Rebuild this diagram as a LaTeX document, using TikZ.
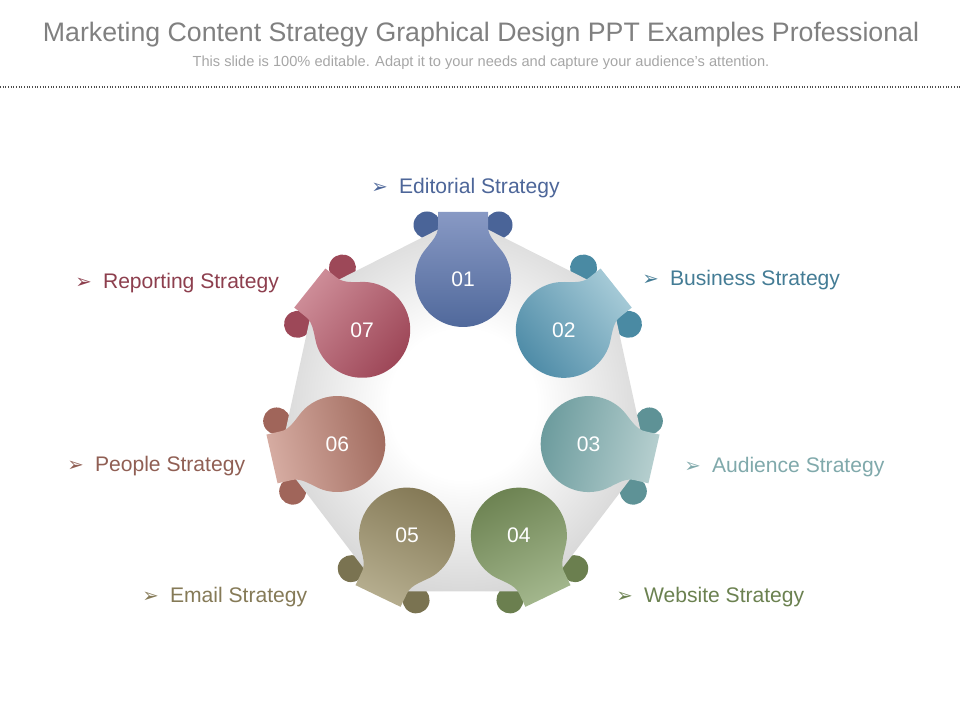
\documentclass[tikz,border=0pt]{standalone}
\usepackage{fontspec}
\setmainfont{Liberation Sans}
\newfontfamily\bulletfont{DejaVu Sans}
\newcommand{\itembullet}{{\bulletfont\fontsize{14}{14}\selectfont ➢}\hspace{8pt}}

\pgfdeclareradialshading{heptagon}{\pgfpoint{0bp}{0bp}}{color(0bp)=(white); color(10bp)=(white); color(34bp)=(gray!48); color(50bp)=(gray!60)}

\definecolor{darkA}{HTML}{4D6699}\definecolor{lightA}{HTML}{8899C4}\definecolor{earA}{HTML}{4A6498}
\definecolor{darkB}{HTML}{4C8AA6}\definecolor{lightB}{HTML}{A4C9D6}\definecolor{earB}{HTML}{4A8AA3}
\definecolor{darkC}{HTML}{6A9A9C}\definecolor{lightC}{HTML}{B6CFCF}\definecolor{earC}{HTML}{5E9296}
\definecolor{darkD}{HTML}{6B8150}\definecolor{lightD}{HTML}{A2B68C}\definecolor{earD}{HTML}{6B7F4F}
\definecolor{darkE}{HTML}{857A57}\definecolor{lightE}{HTML}{B5AD8E}\definecolor{earE}{HTML}{7A7351}
\definecolor{darkF}{HTML}{A06A5D}\definecolor{lightF}{HTML}{D6ACA2}\definecolor{earF}{HTML}{A0655A}
\definecolor{darkG}{HTML}{9D4657}\definecolor{lightG}{HTML}{CD8C97}\definecolor{earG}{HTML}{9D4858}

\begin{document}
\begin{tikzpicture}[x=0.025cm,y=0.025cm,
  num/.style={text=white,inner sep=0pt,font=\fontsize{15}{18}\selectfont},
  item/.style={anchor=base west,inner sep=0pt,font=\fontsize{15}{18}\selectfont},
  pics/ears/.style={code={
    \fill[#1] (-36,54) circle (13.5);
    \fill[#1] (36,54) circle (13.5);
  }},
  pics/piece/.style n args={3}{code={
    \shade[top color=#2,bottom color=#1,shading angle=#3] (-25,67) -- (25,67) -- (25,53)
      .. controls (24,42) and (36.6,32.7) .. (41.6,24)
      arc[start angle=30,end angle=-210,radius=48]
      .. controls (-36.6,32.7) and (-24,42) .. (-25,53) -- cycle;
  }}]

  \useasboundingbox (0,0) rectangle (960,720);

  % Title and rule
  \node[anchor=base,inner sep=0pt,text=black!50,font=\fontsize{19}{22}\selectfont] (title) at (481,678)
    {Marketing Content Strategy Graphical Design PPT Examples Professional};
  \node[anchor=base,inner sep=0pt,text=black!35,font=\fontsize{10.4}{12}\selectfont] (subtitle) at (481,653)
    {This slide is 100\% editable. Adapt it to your needs and capture your audience's attention.};
  \coordinate (ruleL) at (0,633);
  \coordinate (ruleR) at (960,633);
  \draw[black!70,line width=1.3pt,dash pattern=on 0.7pt off 1.2pt] (ruleL) -- (ruleR);

  \begin{scope}[shift={(463,306)},xscale=0.955]
    % Rolled ends, partly hidden by the heptagon
    \pic[rotate=0] at (90:135) {ears=earA};
    \pic[rotate=-51.43] at (38.57:135) {ears=earB};
    \pic[rotate=-102.86] at (-12.86:135) {ears=earC};
    \pic[rotate=-154.29] at (-64.29:135) {ears=earD};
    \pic[rotate=-205.71] at (-115.71:135) {ears=earE};
    \pic[rotate=-257.14] at (-167.14:135) {ears=earF};
    \pic[rotate=51.43] at (141.43:135) {ears=earG};

    % Heptagon behind the pieces
    \shade[shading=heptagon] (90:197) -- (38.57:197) -- (-12.86:197) -- (-64.29:197)
      -- (-115.71:197) -- (-167.14:197) -- (141.43:197) -- cycle;

    % Pieces
    \pic[rotate=0] at (90:135) {piece={darkA}{lightA}{0}};
    \pic[rotate=-51.43] at (38.57:135) {piece={darkB}{lightB}{-51.43}};
    \pic[rotate=-102.86] at (-12.86:135) {piece={darkC}{lightC}{-102.86}};
    \pic[rotate=-154.29] at (-64.29:135) {piece={darkD}{lightD}{-154.29}};
    \pic[rotate=-205.71] at (-115.71:135) {piece={darkE}{lightE}{-205.71}};
    \pic[rotate=-257.14] at (-167.14:135) {piece={darkF}{lightF}{-257.14}};
    \pic[rotate=51.43] at (141.43:135) {piece={darkG}{lightG}{51.43}};

    % Numbers
    \node[num] (n01) at (90:135) {01};
    \node[num] (n02) at (38.57:135) {02};
    \node[num] (n03) at (-12.86:135) {03};
    \node[num] (n04) at (-64.29:135) {04};
    \node[num] (n05) at (-115.71:135) {05};
    \node[num] (n06) at (-167.14:135) {06};
    \node[num] (n07) at (141.43:135) {07};
  \end{scope}

  % Labels
  \node[item,text=darkA] (editorial) at (371,526) {\itembullet Editorial Strategy};
  \node[item,text=darkB!90!black] (business) at (642,434) {\itembullet Business Strategy};
  \node[item,text=darkC!85] (audience) at (684,247) {\itembullet Audience Strategy};
  \node[item,text=darkD] (website) at (616,117) {\itembullet Website Strategy};
  \node[item,text=darkE] (email) at (142,117) {\itembullet Email Strategy};
  \node[item,text=darkF!90!black] (people) at (67,248) {\itembullet People Strategy};
  \node[item,text=darkG!90!black] (reporting) at (75,431) {\itembullet Reporting Strategy};

\end{tikzpicture}
\end{document}
